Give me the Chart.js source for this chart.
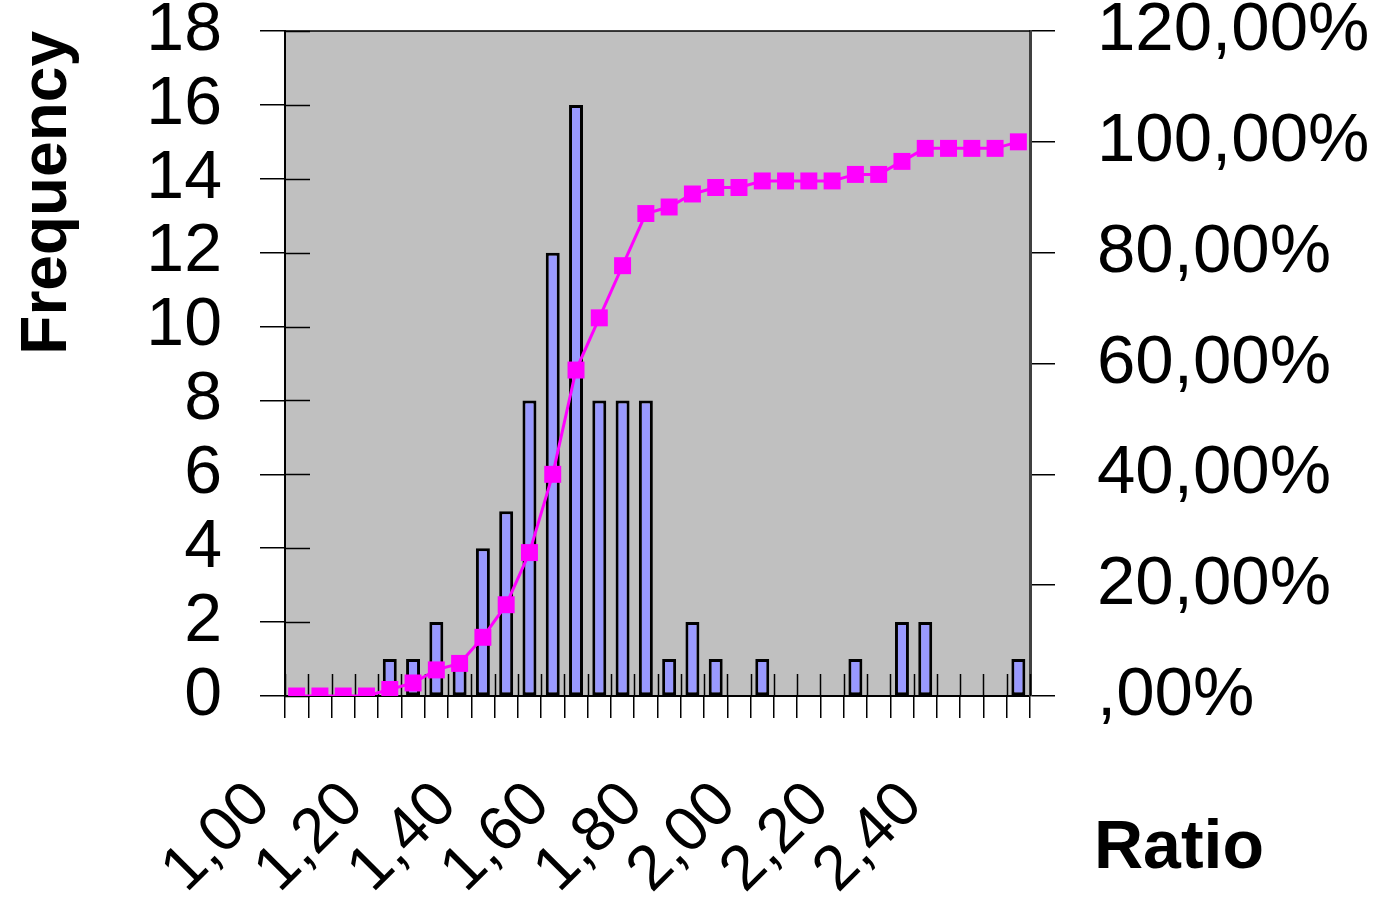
<!DOCTYPE html>
<html>
<head>
<meta charset="utf-8">
<script src="https://cdn.jsdelivr.net/npm/chart.js@4"></script>
<style>
  html, body { margin: 0; padding: 0; background: #fff; }
  #wrap { width: 1397px; height: 899px; }
</style>
</head>
<body>
<div id="wrap"><canvas id="chart"></canvas></div>
<script>

// bins of the histogram (ratio, step 0,05)
var ratioLabels = ["1,00","1,05","1,10","1,15","1,20","1,25","1,30","1,35","1,40","1,45","1,50","1,55","1,60","1,65","1,70","1,75",
                   "1,80","1,85","1,90","1,95","2,00","2,05","2,10","2,15","2,20","2,25","2,30","2,35","2,40","2,45","2,50","2,55"];

// frequency per bin
var frequency = [0,0,0,0,1,1,2,1,4,5,8,12,16,8,8,8,
                 1,2,1,0,1,0,0,0,1,0,2,2,0,0,0,1];

// cumulative %
var cumulative = [0,0,0,0,1.18,2.35,4.71,5.88,10.59,16.47,25.88,40.00,58.82,68.24,77.65,87.06,
                  88.24,90.59,91.76,91.76,92.94,92.94,92.94,92.94,94.12,94.12,96.47,98.82,98.82,98.82,98.82,100];

var freqMax = 18, freqStep = 2;
var pctMax = 120, pctStep = 20;

var fontFamily = 'Arial, "Liberation Sans", sans-serif';

// grey plot area + top border
var plotArea = {
  id: 'plotArea',
  beforeDraw: function(chart) {
    var ctx = chart.ctx, a = chart.chartArea;
    ctx.save();
    ctx.fillStyle = '#C0C0C0';
    ctx.fillRect(a.left, a.top, a.right - a.left, a.bottom - a.top);
    ctx.restore();
  },
  afterDraw: function(chart) {
    var ctx = chart.ctx, a = chart.chartArea;
    ctx.save();
    ctx.strokeStyle = '#000';
    ctx.lineWidth = 1.5;
    ctx.beginPath();
    ctx.moveTo(a.left, a.top);
    ctx.lineTo(a.right, a.top);
    ctx.stroke();
    // x axis title sits right of the plot, like in excel
    ctx.fillStyle = '#000';
    ctx.font = 'bold 68px ' + fontFamily;
    ctx.textAlign = 'left';
    ctx.textBaseline = 'alphabetic';
    ctx.fillText('Ratio', a.right + 64, 868);
    ctx.restore();
  }
};

// tick marks that cross the axes (inner half)
var crossTicks = {
  id: 'crossTicks',
  beforeDatasetsDraw: function(chart) {
    var ctx = chart.ctx, a = chart.chartArea;
    var xs = chart.scales.x, ys = chart.scales.y;
    ctx.save();
    ctx.strokeStyle = '#000';
    ctx.lineWidth = 1.5;
    ctx.beginPath();
    for (var i = 0; i <= ratioLabels.length; i++) {
      var px = Math.round(xs.getPixelForValue(i - 0.5)) + 0.5;
      ctx.moveTo(px, a.bottom);
      ctx.lineTo(px, a.bottom - 22);
    }
    for (var v = 0; v <= freqMax; v += freqStep) {
      var py = Math.round(ys.getPixelForValue(v)) + 0.5;
      ctx.moveTo(a.left, py);
      ctx.lineTo(a.left + 25, py);
    }
    ctx.stroke();
    ctx.restore();
  }
};

function fixV(w) {
  return function(s) {
    s.width = w;
    s.paddingTop = 0;
    s.paddingBottom = 0;
  };
}

new Chart(document.getElementById('chart'), {
  data: {
    labels: ratioLabels,
    datasets: [{
      type: 'line',
      label: 'Cumulative %',
      data: cumulative,
      yAxisID: 'y1',
      order: 0,
      borderColor: '#FF00FF',
      borderWidth: 3,
      backgroundColor: '#FF00FF',
      pointStyle: 'rect',
      pointRadius: 12,
      pointBackgroundColor: '#FF00FF',
      pointBorderWidth: 0,
      tension: 0
    }, {
      type: 'bar',
      label: 'Frequency',
      data: frequency,
      yAxisID: 'y',
      order: 1,
      backgroundColor: '#9999FF',
      borderColor: '#000',
      borderWidth: 3,
      borderSkipped: false,
      barPercentage: 0.6,
      categoryPercentage: 1
    }]
  },
  options: {
    responsive: true,
    maintainAspectRatio: false,
    animation: false,
    layout: { padding: { top: 31, left: 0, right: 0, bottom: 0 } },
    plugins: {
      legend: { display: false },
      tooltip: { enabled: false }
    },
    scales: {
      x: {
        type: 'category',
        offset: true,
        afterFit: function(s) { s.height = 203; s.paddingLeft = 0; s.paddingRight = 0; },
        grid: { display: true, offset: true, drawOnChartArea: false, tickLength: 22, color: '#000', lineWidth: 1.5 },
        border: { display: true, color: '#000', width: 2 },
        ticks: {
          autoSkip: false,
          minRotation: 45,
          maxRotation: 45,
          labelOffset: -36,
          padding: 50,
          color: '#000',
          font: { size: 63, family: fontFamily },
          callback: function(v, i) { return i % 4 === 0 ? ratioLabels[i] : ''; }
        }
      },
      y: {
        position: 'left',
        min: 0,
        max: freqMax,
        afterFit: fixV(285),
        grid: { drawOnChartArea: false, tickLength: 25, color: '#000', lineWidth: 1.5 },
        border: { display: true, color: '#000', width: 2 },
        ticks: {
          stepSize: freqStep,
          autoSkip: false,
          padding: 38,
          color: '#000',
          font: { size: 68, family: fontFamily }
        },
        title: {
          display: true,
          text: 'Frequency',
          align: 'end',
          color: '#000',
          padding: { top: 10, bottom: 0 },
          font: { size: 64, weight: 'bold', family: fontFamily }
        }
      },
      y1: {
        position: 'right',
        min: 0,
        max: pctMax,
        afterFit: fixV(367),
        grid: { drawOnChartArea: false, tickLength: 25, color: '#000', lineWidth: 1.5 },
        border: { display: true, color: '#404040', width: 3 },
        ticks: {
          stepSize: pctStep,
          autoSkip: false,
          padding: 42,
          color: '#000',
          font: { size: 69, family: fontFamily },
          callback: function(v) {
            return v === 0 ? ',00%' : v.toFixed(2).replace('.', ',') + '%';
          }
        }
      }
    }
  },
  plugins: [plotArea, crossTicks]
});
</script>
</body>
</html>
